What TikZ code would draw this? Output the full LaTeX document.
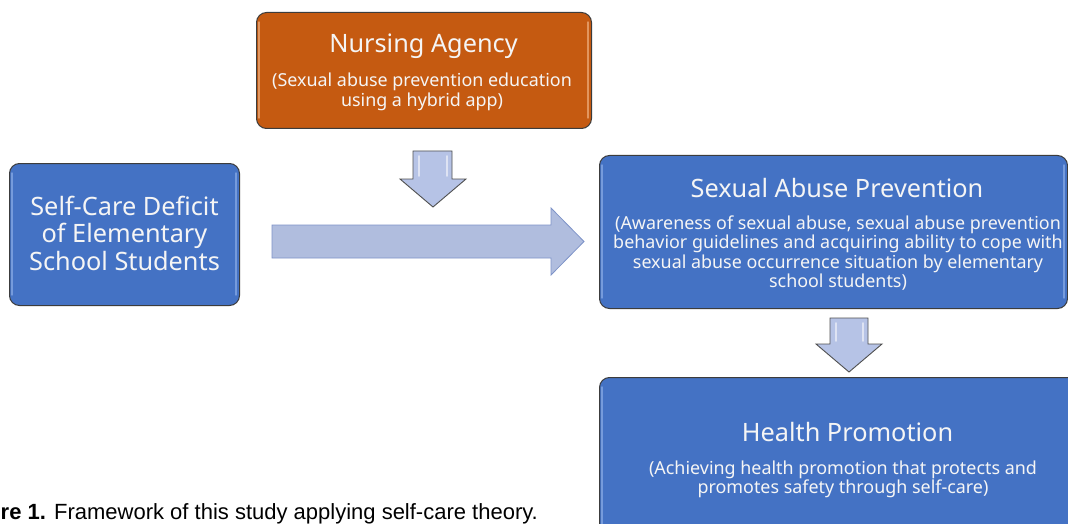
\documentclass[tikz,border=0pt]{standalone}
\usepackage{fontspec}
\setmainfont{Noto Sans}
\newfontfamily\capfont{Liberation Sans}
\definecolor{boxblue}{RGB}{68,114,196}
\definecolor{boxorange}{RGB}{197,90,17}
\definecolor{boxline}{RGB}{60,60,60}
\definecolor{txt}{RGB}{245,245,245}
\definecolor{arrowfill}{RGB}{176,189,222}
\definecolor{arrowline}{RGB}{126,147,200}
\definecolor{darrowfill}{RGB}{182,195,230}
\definecolor{darrowline}{RGB}{80,80,80}
\definecolor{hiorange}{RGB}{250,200,160}
\definecolor{hiblue}{RGB}{160,190,240}
\begin{document}
\begin{tikzpicture}[x=1pt,y=-1pt,
  box/.style={draw=boxline, line width=1pt, rounded corners=10pt, anchor=north west, inner sep=0pt},
  hilite/.style={line width=1.4pt, line cap=round, opacity=0.55},
  title/.style={text=txt, anchor=base, inner sep=0pt, font=\fontsize{25.3}{29}\selectfont},
  sub/.style={text=txt, anchor=base, inner sep=0pt, font=\fontsize{17.9}{20}\selectfont},
  blockarrow/.style={fill=arrowfill, draw=arrowline, line width=0.8pt, line join=miter},
  downarrow/.style={fill=darrowfill, draw=darrowline, line width=0.9pt, line join=miter},
  caption/.style={anchor=base west, inner sep=0pt, font=\capfont\fontsize{22}{26}\selectfont}]
\clip (0,0) rectangle (1068,524);
\fill[white] (0,0) rectangle (1068,524);

% boxes
\node[box, fill=boxorange, minimum width=335pt, minimum height=116pt] (nurse) at (256,12) {};
\node[box, fill=boxblue, minimum width=230pt, minimum height=142pt] (self) at (9,163) {};
\node[box, fill=boxblue, minimum width=468pt, minimum height=153pt] (sap) at (599,155) {};
\node[box, fill=boxblue, minimum width=492pt, minimum height=160pt] (health) at (599,377) {};

% bevel highlights
\draw[hilite, color=hiorange] (259,22) -- (259,118);
\draw[hilite, color=hiorange] (588,22) -- (588,118);
\draw[hilite, color=hiblue] (12,173) -- (12,295);
\draw[hilite, color=hiblue] (236,173) -- (236,295);
\draw[hilite, color=hiblue] (602,165) -- (602,298);
\draw[hilite, color=hiblue] (1064,165) -- (1064,298);
\draw[hilite, color=hiblue] (602,387) -- (602,524);

% texts
\node[title] (nurseT) at (423.5,53) {Nursing Agency};
\foreach \t [count=\i] in {{(Sexual abuse prevention education}, {using a hybrid app)}}
  \node[sub] (nurseS\i) at (422,{87+19.5*(\i-1)}) {\t};

\foreach \t [count=\i] in {{Self-Care Deficit}, {of Elementary}, {School Students}}
  \node[title] (selfT\i) at (124.5,{215+27.8*(\i-1)}) {\t};

\node[title] (sapT) at (837,197) {Sexual Abuse Prevention};
\foreach \t [count=\i] in {{(Awareness of sexual abuse, sexual abuse prevention}, {behavior guidelines and acquiring ability to cope with}, {sexual abuse occurrence situation by elementary}, {school students)}}
  \node[sub] (sapS\i) at (838,{229.5+19.4*(\i-1)}) {\t};

\node[title] (healthT) at (847.5,441) {Health Promotion};
\foreach \t [count=\i] in {{(Achieving health promotion that protects and}, {promotes safety through self-care)}}
  \node[sub] (healthS\i) at (843,{474+19.4*(\i-1)}) {\t};

% big right arrow
\draw[blockarrow] (272,225) -- (551,225) -- (551,208) -- (584,241.5) -- (551,275) -- (551,258) -- (272,258) -- cycle;

% down arrows
\draw[downarrow] (413,151) -- (452,151) -- (452,179) -- (466,179) -- (433,207) -- (400,179) -- (413,179) -- cycle;
\draw[hilite, color=white, line width=1.6pt] (419,156) -- (419,176);
\draw[hilite, color=white, line width=1.6pt] (447,156) -- (447,176);
\draw[downarrow] (830,318) -- (868,318) -- (868,344) -- (882,344) -- (849,372) -- (816,344) -- (830,344) -- cycle;
\draw[hilite, color=white, line width=1.6pt] (836,323) -- (836,341);
\draw[hilite, color=white, line width=1.6pt] (863,323) -- (863,341);

% caption
\node[caption] (cap) at (0.5,519) {\textbf{re 1.} Framework of this study applying self-care theory.};
\end{tikzpicture}
\end{document}
